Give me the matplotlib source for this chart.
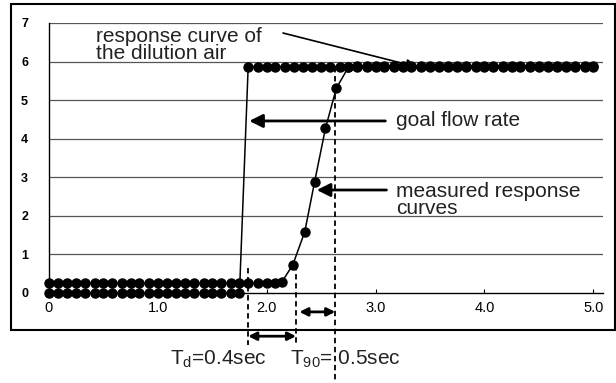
import matplotlib.pyplot as plt
from matplotlib.patches import Rectangle

plt.rcParams['font.family'] = ['Liberation Sans', 'DejaVu Sans']

# goal flow rate (step)
goal_t = [0.00, 0.08, 0.17, 0.25, 0.33, 0.42, 0.50, 0.58, 0.67, 0.75, 0.83,
          0.92, 1.00, 1.08, 1.17, 1.25, 1.33, 1.42, 1.50, 1.58, 1.67, 1.75,
          1.83, 1.92, 2.00, 2.08, 2.17, 2.25, 2.33, 2.42, 2.50, 2.58, 2.67,
          2.75, 2.83, 2.92, 3.00, 3.08, 3.17, 3.25, 3.33, 3.42, 3.50, 3.58,
          3.67, 3.75, 3.83, 3.92, 4.00, 4.08, 4.17, 4.25, 4.33, 4.42, 4.50,
          4.58, 4.67, 4.75, 4.83, 4.92, 5.00]
goal_v = [0, 0, 0, 0, 0, 0, 0, 0, 0, 0, 0,
          0, 0, 0, 0, 0, 0, 0, 0, 0, 0, 0,
          5.87, 5.87, 5.87, 5.87, 5.87, 5.87, 5.87, 5.87, 5.87, 5.87, 5.87,
          5.87, 5.87, 5.87, 5.87, 5.87, 5.87, 5.87, 5.87, 5.87, 5.87, 5.87,
          5.87, 5.87, 5.87, 5.87, 5.87, 5.87, 5.87, 5.87, 5.87, 5.87, 5.87,
          5.87, 5.87, 5.87, 5.87, 5.87, 5.87]

# measured response curve
meas_t = [0.00, 0.08, 0.17, 0.25, 0.33, 0.42, 0.50, 0.58, 0.67, 0.75, 0.83,
          0.92, 1.00, 1.08, 1.17, 1.25, 1.33, 1.42, 1.50, 1.58, 1.67, 1.75,
          1.83, 1.92, 2.00, 2.08,
          2.14, 2.24, 2.35, 2.44, 2.54, 2.64, 2.75,
          2.83, 2.92, 3.00, 3.08, 3.17, 3.25, 3.33, 3.42, 3.50, 3.58,
          3.67, 3.75, 3.83, 3.92, 4.00, 4.08, 4.17, 4.25, 4.33, 4.42, 4.50,
          4.58, 4.67, 4.75, 4.83, 4.92, 5.00]
meas_v = [0.25, 0.25, 0.25, 0.25, 0.25, 0.25, 0.25, 0.25, 0.25, 0.25, 0.25,
          0.25, 0.25, 0.25, 0.25, 0.25, 0.25, 0.25, 0.25, 0.25, 0.25, 0.25,
          0.25, 0.25, 0.25, 0.25,
          0.29, 0.73, 1.59, 2.88, 4.27, 5.31, 5.85,
          5.88, 5.88, 5.88, 5.88, 5.88, 5.88, 5.88, 5.88, 5.88, 5.88,
          5.88, 5.88, 5.88, 5.88, 5.88, 5.88, 5.88, 5.88, 5.88, 5.88, 5.88,
          5.88, 5.88, 5.88, 5.88, 5.88, 5.88]

xticks = [0, 1, 2, 3, 4, 5]
xlabels = ['0', '1.0', '2.0', '3.0', '4.0', '5.0']
yticks = [0, 1, 2, 3, 4, 5, 6, 7]

fig = plt.figure(figsize=(6.16, 3.83), dpi=100)
fig.patches.append(Rectangle((0.0179, 0.1384), 0.9805, 0.851, transform=fig.transFigure,
                             fill=False, edgecolor='black', linewidth=1.5))
ax = fig.add_axes([0.0795, 0.235, 0.8995, 0.705])

for y in yticks[1:]:
    ax.axhline(y, color='#555555', linewidth=0.9, zorder=1)

ax.plot(goal_t, goal_v, color='black', linewidth=1.1, marker='o', markersize=6.5,
        clip_on=False, zorder=3)
ax.plot(meas_t, meas_v, color='black', linewidth=1.1, marker='o', markersize=6.5,
        clip_on=False, zorder=3)

ax.set_xlim(0, 5.09)
ax.set_ylim(0, 7)
ax.set_xticks(xticks)
ax.set_xticklabels(xlabels, fontsize=10.5)
ax.set_yticks(yticks)
ax.set_yticklabels([str(v) for v in yticks], fontsize=9, fontweight='bold')
ax.tick_params(axis='x', direction='in', length=3, width=0.8, pad=6)
ax.tick_params(axis='y', length=0, pad=15)
for s in ['top', 'right']:
    ax.spines[s].set_visible(False)
ax.spines['left'].set_linewidth(1)
ax.spines['bottom'].set_linewidth(1)

txt = dict(fontsize=15, color='#222222')
ax.text(0.43, 6.43, 'response curve of\nthe dilution air', va='center', ha='left',
        linespacing=0.85, **txt)
ax.annotate('', xy=(3.38, 5.86), xytext=(2.15, 6.74),
            arrowprops=dict(arrowstyle='-|>', color='black', lw=1.2,
                            mutation_scale=16, shrinkA=0, shrinkB=0))

ax.text(3.19, 4.46, 'goal flow rate', va='center', ha='left', **txt)
ax.annotate('', xy=(1.84, 4.46), xytext=(3.09, 4.46),
            arrowprops=dict(arrowstyle='-|>', color='black', lw=2,
                            mutation_scale=20, shrinkA=0, shrinkB=0))

ax.text(3.19, 2.42, 'measured response\ncurves', va='center', ha='left',
        linespacing=0.85, **txt)
ax.annotate('', xy=(2.46, 2.67), xytext=(3.10, 2.67),
            arrowprops=dict(arrowstyle='-|>', color='black', lw=2,
                            mutation_scale=20, shrinkA=0, shrinkB=0))

# dashed guide lines and time intervals
ax.plot([1.83, 1.83], [0.65, -1.35], color='black', linestyle=(0, (3, 2)),
        linewidth=1.3, clip_on=False)
ax.plot([2.27, 2.27], [0.73, -1.35], color='black', linestyle=(0, (3, 2)),
        linewidth=1.3, clip_on=False)
ax.plot([2.63, 2.63], [5.86, -2.4], color='black', linestyle=(0, (3, 2)),
        linewidth=1.3, clip_on=False)

ax.annotate('', xy=(2.27, -1.12), xytext=(1.83, -1.12), annotation_clip=False,
            arrowprops=dict(arrowstyle='<|-|>', color='black', lw=2,
                            mutation_scale=12, shrinkA=0, shrinkB=0))
ax.annotate('', xy=(2.63, -0.49), xytext=(2.30, -0.49), annotation_clip=False,
            arrowprops=dict(arrowstyle='<|-|>', color='black', lw=2,
                            mutation_scale=12, shrinkA=0, shrinkB=0))

ax.text(1.11, -1.72, r'T$_\mathregular{d}$=0.4sec', va='center', ha='left',
        **txt)
ax.text(2.21, -1.72, r'T$_\mathregular{90}$= 0.5sec', va='center', ha='left',
        **txt)

fig.savefig('out.png', dpi=100)
